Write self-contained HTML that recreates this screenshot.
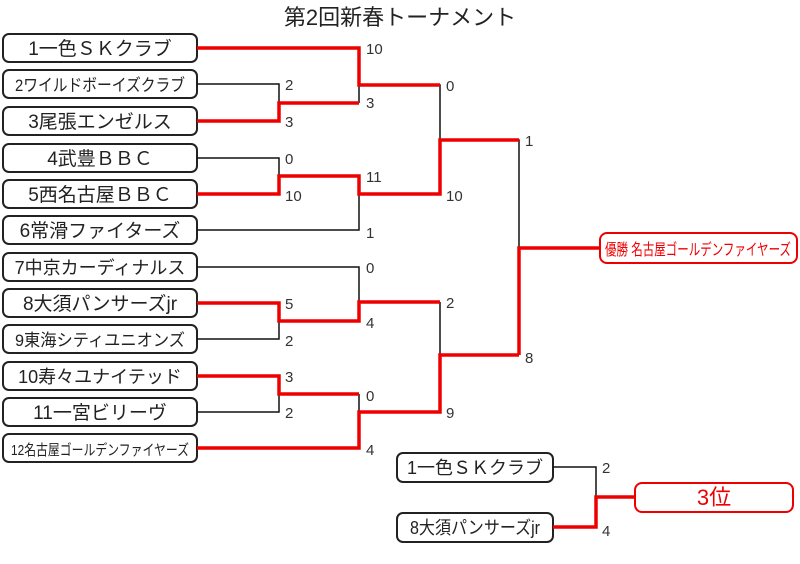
<!DOCTYPE html>
<html><head><meta charset="utf-8"><style>
html,body{margin:0;padding:0;background:#fff;}
svg text{font-family:"Liberation Sans","Noto Sans CJK JP",sans-serif;}
</style></head><body>
<svg width="800" height="559" viewBox="0 0 800 559" xmlns="http://www.w3.org/2000/svg">
<text x="400" y="25" font-size="22" text-anchor="middle" fill="#222">第2回新春トーナメント</text>
<g fill="#fff" stroke="#222" stroke-width="2">
<rect x="3" y="34" width="194" height="28" rx="6"/>
<rect x="3" y="70" width="194" height="28" rx="6"/>
<rect x="3" y="107" width="194" height="28" rx="6"/>
<rect x="3" y="144" width="194" height="28" rx="6"/>
<rect x="3" y="180" width="194" height="28" rx="6"/>
<rect x="3" y="216" width="194" height="28" rx="6"/>
<rect x="3" y="253" width="194" height="28" rx="6"/>
<rect x="3" y="289" width="194" height="28" rx="6"/>
<rect x="3" y="325" width="194" height="28" rx="6"/>
<rect x="3" y="362" width="194" height="28" rx="6"/>
<rect x="3" y="398" width="194" height="28" rx="6"/>
<rect x="3" y="434" width="194" height="28" rx="6"/>
<rect x="397" y="453" width="156" height="29" rx="6"/>
<rect x="397" y="513" width="156" height="29" rx="6"/>
</g>
<g fill="#fff" stroke="#e00" stroke-width="2">
<rect x="600" y="233" width="197" height="30" rx="7"/>
<rect x="635" y="483" width="158" height="29" rx="7"/>
</g>
<g font-size="19" fill="#222" text-anchor="middle">
<text x="100" y="55">1一色ＳＫクラブ</text>
<text x="100" y="91" font-size="17" textLength="170" lengthAdjust="spacingAndGlyphs">2ワイルドボーイズクラブ</text>
<text x="100" y="128">3尾張エンゼルス</text>
<text x="100" y="165">4武豊ＢＢＣ</text>
<text x="100" y="201">5西名古屋ＢＢＣ</text>
<text x="100" y="237">6常滑ファイターズ</text>
<text x="100" y="274" font-size="18">7中京カーディナルス</text>
<text x="100" y="310">8大須パンサーズjr</text>
<text x="100" y="346" font-size="17" textLength="170" lengthAdjust="spacingAndGlyphs">9東海シティユニオンズ</text>
<text x="100" y="383" font-size="18">10寿々ユナイテッド</text>
<text x="100" y="419">11一宮ビリーヴ</text>
<text x="100" y="455" font-size="15" textLength="178" lengthAdjust="spacingAndGlyphs">12名古屋ゴールデンファイヤーズ</text>
<text x="475" y="474" font-size="18">1一色ＳＫクラブ</text>
<text x="475" y="534" font-size="18" textLength="130" lengthAdjust="spacingAndGlyphs">8大須パンサーズjr</text>
<text x="698" y="255" font-size="16" fill="#e00" textLength="186" lengthAdjust="spacingAndGlyphs">優勝 名古屋ゴールデンファイヤーズ</text>
<text x="714" y="505" font-size="22" fill="#e00">3位</text>
</g>
<g fill="none" stroke="#111" stroke-width="1.5">
<polyline points="197,84 279,84 279,103"/>
<polyline points="359,85 359,103"/>
<polyline points="197,158 279,158 279,176"/>
<polyline points="197,230 359,230 359,194"/>
<polyline points="359,85 440,85 440,140"/>
<polyline points="440,140 519,140 519,248"/>
<polyline points="197,267 359,267 359,302"/>
<polyline points="197,339 279,339 279,321"/>
<polyline points="197,412 279,412 279,394"/>
<polyline points="359,394 359,412"/>
<polyline points="440,302 440,355"/>
<polyline points="553,467 596,467 596,497"/>
</g>
<g fill="none" stroke="#e00" stroke-width="3.5">
<polyline points="197,48 359,48 359,85 440,85"/>
<polyline points="197,121 279,121 279,103 359,103"/>
<polyline points="197,194 279,194 279,176 359,176 359,194 440,194 440,140 519,140"/>
<polyline points="519,355 519,248 600,248"/>
<polyline points="197,303 279,303 279,321 359,321 359,302 440,302"/>
<polyline points="197,376 279,376 279,394 359,394"/>
<polyline points="197,448 359,448 359,412 440,412 440,355 519,355"/>
<polyline points="553,527 596,527 596,497 635,497"/>
</g>
<g font-size="15" fill="#333">
<text x="366" y="54">10</text>
<text x="366" y="108">3</text>
<text x="285" y="90">2</text>
<text x="285" y="127">3</text>
<text x="285" y="164">0</text>
<text x="285" y="201">10</text>
<text x="366" y="182">11</text>
<text x="366" y="238">1</text>
<text x="446" y="91">0</text>
<text x="446" y="201">10</text>
<text x="525" y="146">1</text>
<text x="525" y="363">8</text>
<text x="366" y="273">0</text>
<text x="366" y="328">4</text>
<text x="285" y="309">5</text>
<text x="285" y="346">2</text>
<text x="285" y="382">3</text>
<text x="285" y="418">2</text>
<text x="366" y="401">0</text>
<text x="366" y="455">4</text>
<text x="446" y="308">2</text>
<text x="446" y="418">9</text>
<text x="602" y="473">2</text>
<text x="602" y="536">4</text>
</g>
</svg>
</body></html>
